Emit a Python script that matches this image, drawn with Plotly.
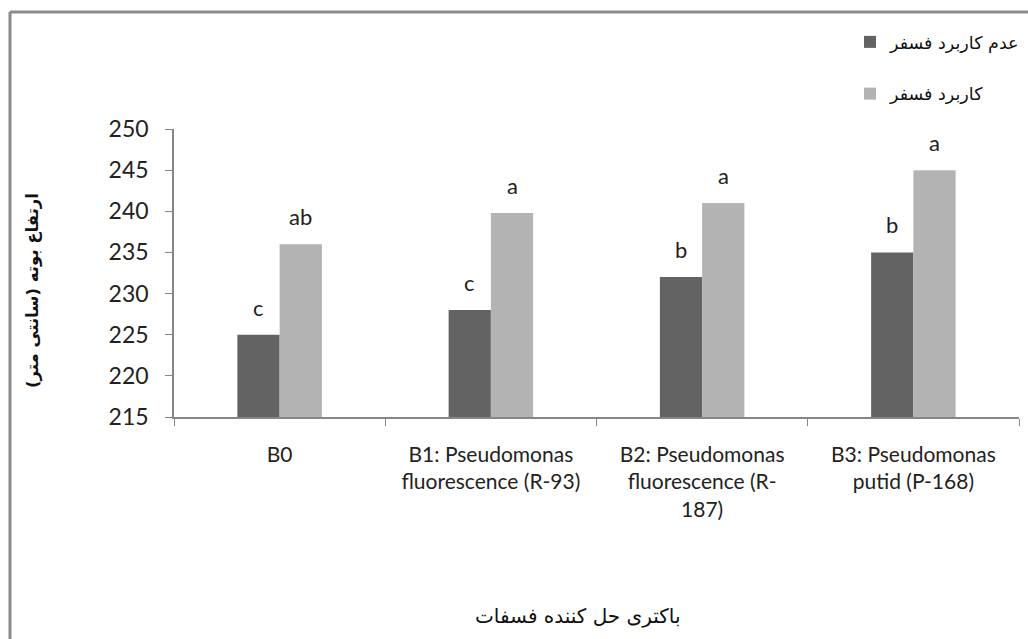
import plotly.graph_objects as go

categories = ["B0", "B1: Pseudomonas<br>fluorescence (R-93)", "B2: Pseudomonas<br>fluorescence (R-<br>187)", "B3: Pseudomonas<br>putid (P-168)"]
no_p = [225, 228, 232, 235]
with_p = [236, 239.8, 241, 245]
no_p_letters = ["c", "c", "b", "b"]
with_p_letters = ["ab", "a", "a", "a"]
series_names = ["عدم کاربرد فسفر", "کاربرد فسفر"]
y_ticks = [215, 220, 225, 230, 235, 240, 245, 250]

DARK = "#636363"
LIGHT = "#b3b3b3"
AXIS = "#868686"
FONT = "Lato"
W, H = 1028, 639

L, R, T, B = 174, 1019, 129, 417
PW, PH = R - L, B - T


def px(x):
    return (x - L) / PW


def py(y):
    return (B - y) / PH


fig = go.Figure()
fig.add_trace(go.Bar(x=categories, y=no_p, name=series_names[0], marker=dict(color=DARK, line=dict(width=0)),
                     legendgroup="g1"))
fig.add_trace(go.Bar(x=categories, y=with_p, name=series_names[1], marker=dict(color=LIGHT, line=dict(width=0)),
                     legendgroup="g2"))

annotations = []
for i, (v, t) in enumerate(zip(no_p, no_p_letters)):
    annotations.append(dict(x=i - 0.1, y=v, xref="x", yref="y", text=t, showarrow=False,
                            yanchor="bottom", yshift=12, font=dict(family=FONT, size=22, color="#222")))
for i, (v, t) in enumerate(zip(with_p, with_p_letters)):
    annotations.append(dict(x=i + 0.1, y=v, xref="x", yref="y", text=t, showarrow=False,
                            yanchor="bottom", yshift=12, font=dict(family=FONT, size=22, color="#222")))

annotations.append(dict(x=px(578), y=py(616), xref="paper", yref="paper",
                        text="باکتری حل کننده فسفات", showarrow=False, xanchor="center", yanchor="middle",
                        font=dict(family="DejaVu Sans", size=20, color="#111")))
annotations.append(dict(x=px(33), y=py(291), xref="paper", yref="paper",
                        text="<b>ارتفاع بوته (سانتی متر)</b>", showarrow=False, textangle=-90,
                        xanchor="center", yanchor="middle",
                        font=dict(family="DejaVu Sans", size=16.5, color="#111")))

frame = dict(color="#8a8a8a", width=3)
fig.update_layout(
    width=W, height=H,
    margin=dict(l=L, r=W - R, t=T, b=H - B, autoexpand=False),
    paper_bgcolor="white", plot_bgcolor="white",
    barmode="group", bargap=0.6, bargroupgap=0,
    font=dict(family=FONT, size=20, color="#222"),
    showlegend=True,
    legend=dict(x=px(850), y=py(24), xanchor="left", yanchor="top",
                font=dict(family="DejaVu Sans", size=17.5, color="#111"),
                tracegroupgap=26, bgcolor="rgba(0,0,0,0)", itemsizing="constant"),
    annotations=annotations,
    shapes=[
        dict(type="line", xref="paper", yref="paper", x0=px(10), x1=px(10), y0=py(650), y1=py(12),
             line=frame, layer="above"),
        dict(type="line", xref="paper", yref="paper", x0=px(10), x1=px(1040), y0=py(12), y1=py(12),
             line=frame, layer="above"),
    ],
    xaxis=dict(showline=True, linecolor=AXIS, linewidth=1.5, ticks="outside", tickson="boundaries",
               ticklen=7, tickcolor=AXIS, showgrid=False, tickfont=dict(family=FONT, size=21, color="#222"),
               ticklabelstandoff=18, automargin=False, tickangle=0),
    yaxis=dict(range=[215, 250], tickvals=y_ticks, showline=True, linecolor=AXIS, linewidth=1.5,
               ticks="outside", ticklen=7, tickcolor=AXIS, showgrid=False, zeroline=False,
               tickfont=dict(family=FONT, size=23, color="#222"), ticklabelstandoff=12, automargin=False),
)

fig.write_html("out.html", post_script="document.body.style.margin='0';",
               config={"displayModeBar": False})
